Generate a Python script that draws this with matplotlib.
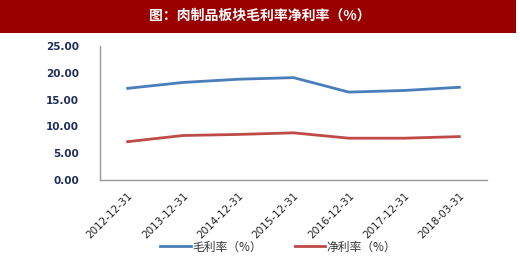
import matplotlib
matplotlib.use("Agg")
import matplotlib.pyplot as plt
from matplotlib.patches import Rectangle

plt.rcParams['font.family'] = ['Noto Sans CJK SC', 'DejaVu Sans']

categories = ["2012-12-31", "2013-12-31", "2014-12-31", "2015-12-31",
              "2016-12-31", "2017-12-31", "2018-03-31"]
gross_margin = [17.1, 18.2, 18.8, 19.1, 16.4, 16.7, 17.3]
net_margin = [7.15, 8.3, 8.5, 8.8, 7.8, 7.8, 8.1]
yticks = [0, 5, 10, 15, 20, 25]
title = "图：肉制品板块毛利率净利率（%）"
labels = ["毛利率（%）", "净利率（%）"]

W, H = 520, 257
fig = plt.figure(figsize=(W / 100, H / 100), dpi=100)
fig.patch.set_facecolor("white")

# title bar
fig.patches.append(Rectangle((0, 1 - 33 / H), 516 / W, 33 / H, transform=fig.transFigure,
                             facecolor="#9a0000", edgecolor="none", zorder=0))
fig.text(260 / W, 1 - 16 / H, title, color="white", fontsize=10, fontweight="bold",
         ha="center", va="center")

ax = fig.add_axes([100 / W, 1 - 180 / H, 387 / W, 134 / H])
x = list(range(len(categories)))
ax.plot(x, gross_margin, color="#4a7ebb", lw=2, label=labels[0])
ax.plot(x, net_margin, color="#be4b48", lw=2, label=labels[1])
ax.set_xlim(-0.5, len(categories) - 0.5)
ax.set_ylim(0, 25)
ax.set_yticks(yticks)
ax.set_yticklabels([f"{v:.2f}" for v in yticks], color="#1f2d5a", fontsize=7.5,
                   family=["DejaVu Sans"], fontweight="bold")
ax.set_xticks(x)
ax.set_xticklabels(categories, rotation=45, ha="right", rotation_mode="anchor",
                   fontsize=7.5, color="#222222", family=["DejaVu Sans"])
ax.tick_params(axis="y", length=0, pad=15)
ax.tick_params(axis="x", length=0, pad=8)
for s in ["top", "right"]:
    ax.spines[s].set_visible(False)
for s in ["left", "bottom"]:
    ax.spines[s].set_color("#999999")
    ax.spines[s].set_linewidth(1)

fig.legend(loc="center", bbox_to_anchor=(278 / W, 1 - 247 / H), ncol=2, frameon=False,
           fontsize=8.5, handlelength=2.6, columnspacing=2.8, handletextpad=0.1,
           labelcolor="#333333")

fig.savefig("out.png", dpi=100)
